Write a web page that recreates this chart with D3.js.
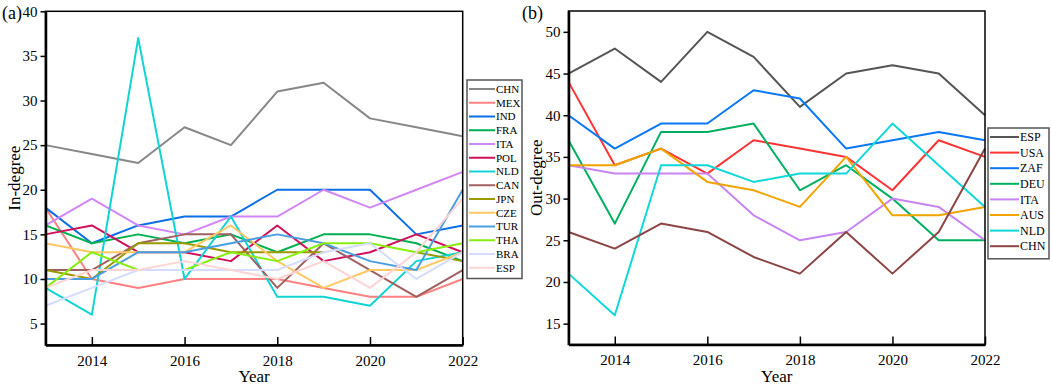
<!DOCTYPE html>
<html>
<head>
<meta charset="utf-8">
<script src="https://cdn.jsdelivr.net/npm/d3@7"></script>
<style>
  body { margin: 0; background: #fff; }
  svg text { font-family: "Liberation Serif", "Times New Roman", Times, serif; fill: #000; }
</style>
</head>
<body>
<svg id="chart"></svg>
<script>
// years on the x axis
const years = [2013, 2014, 2015, 2016, 2017, 2018, 2019, 2020, 2021, 2022];
const xTicks = [2014, 2016, 2018, 2020, 2022];

// (a) in-degree
const inNames = ["CHN", "MEX", "IND", "FRA", "ITA", "POL", "NLD", "CAN", "JPN", "CZE", "TUR", "THA", "BRA", "ESP"];
const inColors = ["#878787", "#ff8080", "#0a6fe6", "#00b050", "#d386f5", "#d0105a", "#10d4d4", "#a06060", "#9a9a00", "#ffc864", "#4a9ee0", "#88ee10", "#d4dcff", "#ffd4d4"];
const inCHN = [25, 24, 23, 27, 25, 31, 32, 28, 27, 26];
const inMEX = [18, 10, 9, 10, 10, 10, 9, 8, 8, 10];
const inIND = [18, 14, 16, 17, 17, 20, 20, 20, 15, 16];
const inFRA = [16, 14, 15, 14, 15, 13, 15, 15, 14, 12];
const inITA = [16, 19, 16, 15, 17, 17, 20, 18, 20, 22];
const inPOL = [15, 16, 13, 13, 12, 16, 12, 13, 15, 13];
const inNLD = [9, 6, 37, 10, 17, 8, 8, 7, 12, 13];
const inCAN = [11, 11, 14, 15, 15, 9, 14, 11, 8, 11];
const inJPN = [11, 10, 14, 14, 13, 13, 13, null, 13, 12];
const inCZE = [14, 13, 13, 13, 16, 12, 9, 11, 11, 13];
const inTUR = [10, 10, 13, 13, 14, 15, 14, 12, 11, 20];
const inTHA = [9, 13, 11, 11, 13, 12, 14, 14, 13, 14];
const inBRA = [7, 9, 11, 11, 11, 11, 13, 14, 10, 13];
const inESP = [9, 11, 11, 12, 11, 10, 12, 9, 13, 19];
const inTicks = [5, 10, 15, 20, 25, 30, 35, 40];

// (b) out-degree
const outNames = ["ESP", "USA", "ZAF", "DEU", "ITA", "AUS", "NLD", "CHN"];
const outColors = ["#555555", "#ff3434", "#0a78f5", "#00b060", "#c884f0", "#f0a400", "#10d8d8", "#8c4444"];
const outESP = [45, 48, 44, 50, 47, 41, 45, 46, 45, 40];
const outUSA = [44, 34, 36, 33, 37, 36, 35, 31, 37, 35];
const outZAF = [40, 36, 39, 39, 43, 42, 36, 37, 38, 37];
const outDEU = [37, 27, 38, 38, 39, 31, 34, 30, 25, 25];
const outITA = [34, 33, 33, 33, 28, 25, 26, 30, 29, 25];
const outAUS = [34, 34, 36, 32, 31, 29, 35, 28, 28, 29];
const outNLD = [21, 16, 34, 34, 32, 33, 33, 39, 34, 29];
const outCHN = [26, 24, 27, 26, 23, 21, 26, 21, 26, 36];
const outTicks = [15, 20, 25, 30, 35, 40, 45, 50];

let svg = d3.select("#chart")
    .attr("width", 1052)
    .attr("height", 386);

function createPanel(opt) {
    let x = d3.scaleLinear().domain([2013, 2022]).range([opt.left, opt.right]);
    let y = d3.scaleLinear().domain(opt.yDomain).range([opt.bottom, opt.top]);

    let line = d3.line()
        .defined(d => d.v != null)
        .x(d => x(d.year))
        .y(d => y(d.v));

    let g = svg.append("g");

    opt.series.forEach((vals, i) => {
        let pts = years.map((yr, j) => ({ year: yr, v: vals[j] }));
        g.append("path")
            .datum(pts)
            .attr("d", line)
            .attr("fill", "none")
            .attr("stroke", opt.colors[i])
            .attr("stroke-width", 2)
            .attr("stroke-linejoin", "round");
    });

    // frame
    g.append("rect")
        .attr("x", opt.left).attr("y", opt.top)
        .attr("width", opt.right - opt.left).attr("height", opt.bottom - opt.top)
        .attr("fill", "none").attr("stroke", "#000").attr("stroke-width", 1.5);

    let yAxis = g.append("g")
        .attr("transform", `translate(${opt.left},0)`)
        .call(d3.axisLeft(y).tickValues(opt.yTicks).tickSize(5).tickSizeOuter(0).tickPadding(3));
    let xAxis = g.append("g")
        .attr("transform", `translate(0,${opt.bottom})`)
        .call(d3.axisBottom(x).tickValues(xTicks).tickFormat(d3.format("d")).tickSize(-8).tickSizeOuter(0).tickPadding(10));

    [yAxis, xAxis].forEach(a => {
        a.attr("font-family", null).attr("font-size", null);
        a.select(".domain").attr("stroke-width", 2.5);
        a.selectAll(".tick line").attr("stroke-width", 1.5);
        a.selectAll("text")
            .style("font-family", "'Liberation Serif', serif")
            .style("font-size", "15px");
    });

    g.append("text")
        .attr("x", (opt.left + opt.right) / 2)
        .attr("y", 382)
        .attr("text-anchor", "middle")
        .attr("font-size", 17)
        .text("Year");

    g.append("text")
        .attr("transform", `translate(${opt.yLabelX},${(opt.top + opt.bottom) / 2}) rotate(-90)`)
        .attr("text-anchor", "middle")
        .attr("font-size", 17)
        .text(opt.yLabel);

    g.append("text")
        .attr("x", opt.tagX)
        .attr("y", 19)
        .attr("font-size", 18)
        .text(opt.tag);

    // legend
    let lg = g.append("g");
    let n = opt.names.length;
    lg.append("rect")
        .attr("x", opt.legX).attr("y", opt.legY)
        .attr("width", opt.legW).attr("height", opt.legStep * n + 6)
        .attr("fill", "#fff").attr("stroke", "#555").attr("stroke-width", 1.5);
    opt.names.forEach((name, i) => {
        let cy = opt.legY + 8 + opt.legStep * i + 1;
        lg.append("line")
            .attr("x1", opt.legX + 2).attr("x2", opt.legX + opt.legLine)
            .attr("y1", cy).attr("y2", cy)
            .attr("stroke", opt.colors[i]).attr("stroke-width", 2);
        lg.append("text")
            .attr("x", opt.legX + opt.legLine + 1)
            .attr("y", cy + opt.legFont * 0.35)
            .attr("font-size", opt.legFont)
            .text(name);
    });
}

createPanel({
    left: 45.5, right: 462.7, top: 11.3, bottom: 345,
    yDomain: [2.6, 40], yTicks: inTicks,
    series: [inCHN, inMEX, inIND, inFRA, inITA, inPOL, inNLD, inCAN, inJPN, inCZE, inTUR, inTHA, inBRA, inESP],
    names: inNames, colors: inColors,
    yLabel: "In-degree", yLabelX: 20, tag: "(a)", tagX: 2,
    legX: 467, legY: 80, legW: 55, legStep: 13.75, legLine: 28, legFont: 11
});

createPanel({
    left: 568.5, right: 985, top: 11, bottom: 344.5,
    yDomain: [12.5, 52.5], yTicks: outTicks,
    series: [outESP, outUSA, outZAF, outDEU, outITA, outAUS, outNLD, outCHN],
    names: outNames, colors: outColors,
    yLabel: "Out-degree", yLabelX: 542, tag: "(b)", tagX: 522,
    legX: 988, legY: 128, legW: 61, legStep: 15.6, legLine: 31, legFont: 12
});
</script>
</body>
</html>
